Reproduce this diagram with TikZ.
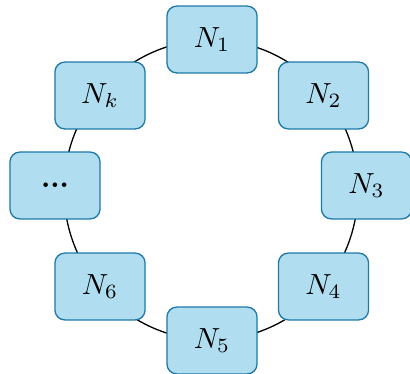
\documentclass[tikz,border=0pt]{standalone}
\usepackage{xcolor}
\usepackage{tikz}
\usepackage{amsmath}
\usetikzlibrary{positioning,calc}
\definecolor{ringFill}{RGB}{176,222,240}
\definecolor{ringDraw}{RGB}{30,120,168}

\tikzset{
  peer/.style={draw=ringDraw,fill=ringFill,line width=0.45pt,
               rounded corners=3.4pt,minimum width=31pt,minimum height=23pt,
               inner sep=0pt,font=\normalsize}
}

\begin{document}
\begin{tikzpicture}[x=0.344pt,y=-0.344pt]
        \useasboundingbox (0,0) rectangle (410,374);

        % Anel que liga os nos
        \coordinate (ring) at (211,190);
        \draw[black,line width=0.45pt] (ring) ellipse[x radius=147,y radius=150];

        % Nos do anel
        \foreach \name/\lbl/\x/\y in {n1/{$N_1$}/212/39.5, n2/{$N_2$}/323.5/95.5,
            n3/{$N_3$}/366.5/185.5, n4/{$N_4$}/323.5/286.5,
            n5/{$N_5$}/212/340.5, n6/{$N_6$}/100/286.5,
            dots/{\textbf{...}}/55/185.5, nk/{$N_k$}/100/95.5}{
          \node[peer] (\name) at (\x,\y) {\lbl};
        }
      \end{tikzpicture}
\end{document}
